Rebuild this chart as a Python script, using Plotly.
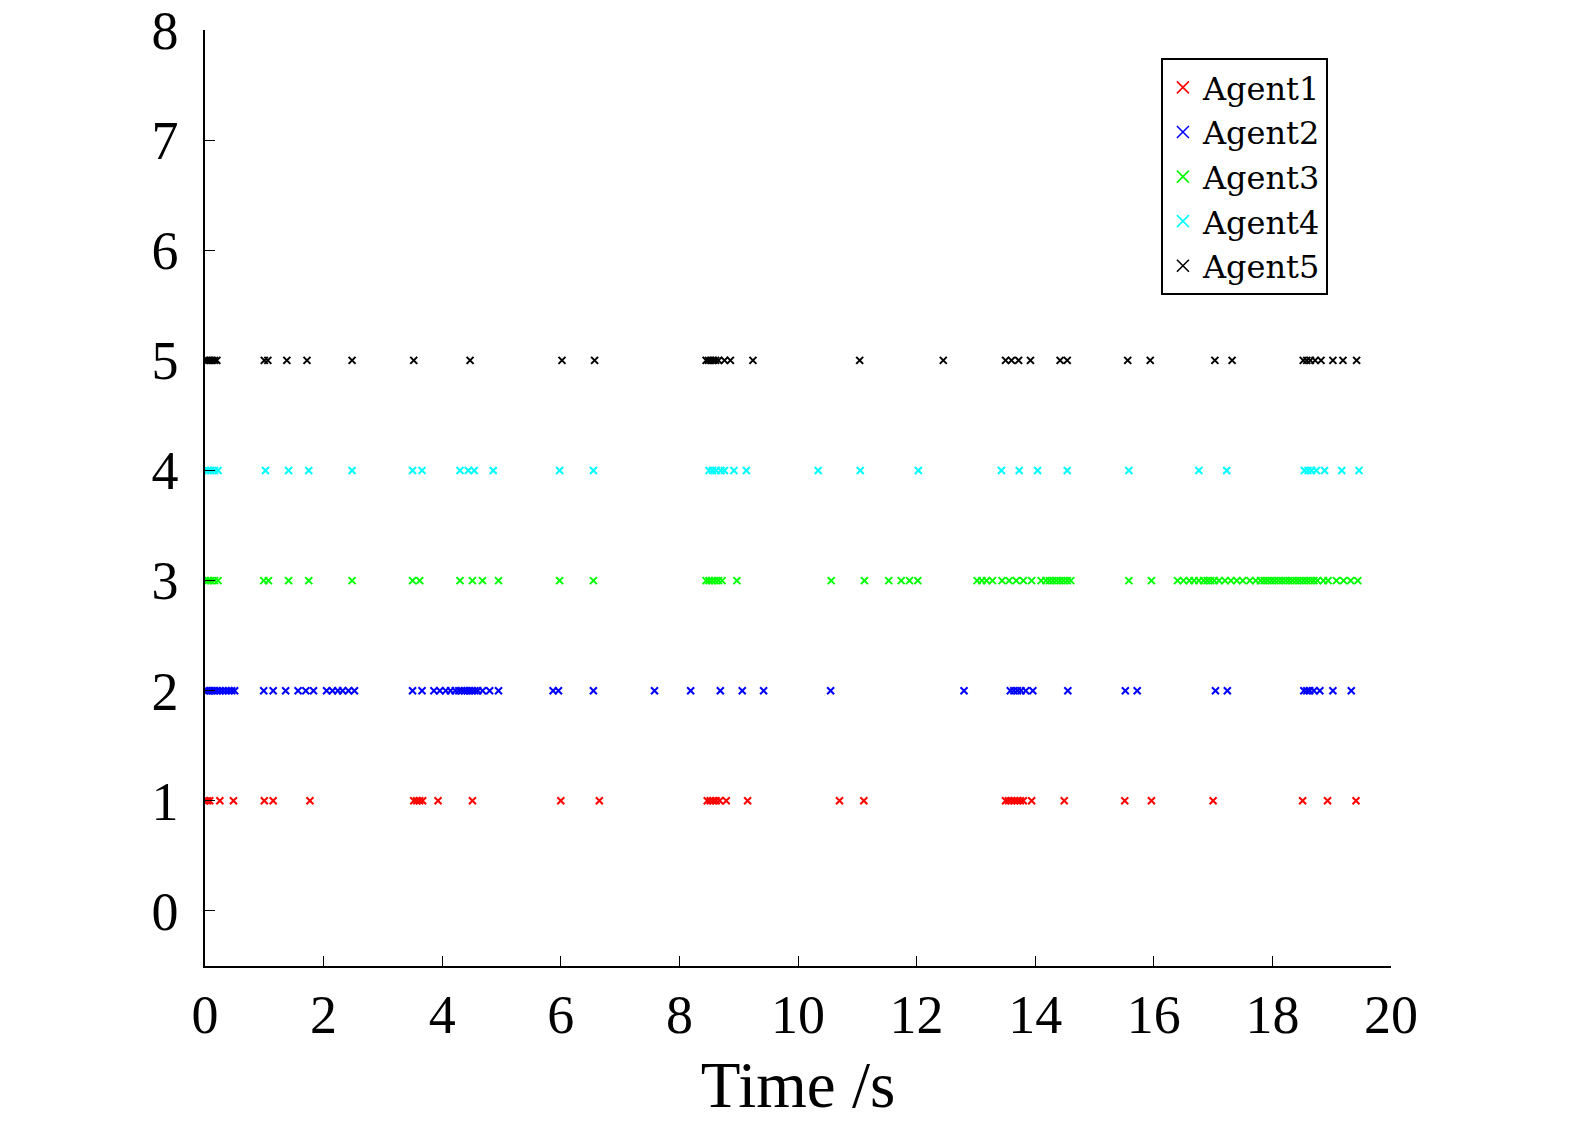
import plotly.graph_objects as go

# event instants (s) for each agent
agent1_t = [0.0, 0.04, 0.08, 0.25, 0.48, 1.0, 1.15, 1.77, 3.52, 3.57, 3.62, 3.67,
            3.93, 4.51, 6.0, 6.65, 8.47, 8.52, 8.57, 8.62, 8.68, 8.79, 9.15, 10.7,
            11.11, 13.5, 13.55, 13.6, 13.65, 13.7, 13.75, 13.8, 13.94, 14.49, 15.51,
            15.96, 17.0, 18.51, 18.93, 19.41]
agent2_t = [0.0, 0.04, 0.08, 0.12, 0.16, 0.2, 0.25, 0.3, 0.35, 0.4, 0.45, 0.5,
            0.99, 1.15, 1.36, 1.57, 1.7, 1.83, 2.05, 2.15, 2.24, 2.32, 2.42, 2.52,
            3.5, 3.66, 3.86, 3.96, 4.06, 4.14, 4.22, 4.28, 4.33, 4.38, 4.42, 4.46,
            4.5, 4.55, 4.6, 4.68, 4.8, 4.95, 5.87, 5.96, 6.55, 7.58, 8.19, 8.69, 9.06,
            9.42, 10.55, 12.8, 13.58, 13.64, 13.7, 13.76, 13.84, 13.96, 14.55, 15.52,
            15.72, 17.04, 17.24, 18.53, 18.58, 18.63, 18.7, 18.8, 19.02, 19.33]
agent3_t = [0.0, 0.05, 0.1, 0.16, 0.22, 0.99, 1.07, 1.41, 1.75, 2.48, 3.5, 3.62,
            4.3, 4.51, 4.68, 4.95, 5.98, 6.55, 8.45, 8.5, 8.55, 8.6, 8.66, 8.72, 8.97,
            10.56, 11.12, 11.53, 11.74, 11.88, 12.02, 13.02, 13.1, 13.18, 13.28,
            13.44, 13.56, 13.68, 13.8, 13.94, 14.1, 14.18, 14.24, 14.3, 14.36, 14.42,
            14.48, 14.54, 14.6, 15.58, 15.96, 16.4, 16.5, 16.6, 16.68, 16.76, 16.84,
            16.9, 16.96, 17.02, 17.1, 17.2, 17.3, 17.4, 17.5, 17.62, 17.72, 17.8,
            17.86, 17.92, 17.98, 18.04, 18.1, 18.16, 18.22, 18.28, 18.34, 18.4, 18.46,
            18.52, 18.58, 18.64, 18.7, 18.76, 18.86, 18.94, 19.08, 19.2, 19.32, 19.44]
agent4_t = [0.0, 0.05, 0.1, 0.16, 0.22, 1.02, 1.41, 1.75, 2.48, 3.5, 3.66, 4.3,
            4.44, 4.54, 4.86, 5.98, 6.55, 8.5, 8.56, 8.62, 8.7, 8.76, 8.92, 9.13,
            10.34, 11.05, 12.03, 13.43, 13.73, 14.04, 14.54, 15.58, 16.76, 17.23,
            18.54, 18.6, 18.66, 18.74, 18.88, 19.17, 19.46]
agent5_t = [0.0, 0.04, 0.08, 0.12, 0.16, 0.2, 1.0, 1.06, 1.38, 1.72, 2.48, 3.52,
            4.47, 6.02, 6.57, 8.45, 8.49, 8.53, 8.57, 8.61, 8.66, 8.76, 8.86, 9.24,
            11.04, 12.45, 13.5, 13.6, 13.72, 13.92, 14.42, 14.54, 15.56, 15.94,
            17.03, 17.32, 18.52, 18.58, 18.64, 18.72, 18.82, 19.02, 19.19, 19.42]

names = ["Agent1", "Agent2", "Agent3", "Agent4", "Agent5"]
levels = [1, 2, 3, 4, 5]
colors = ["#ff0000", "#0000ff", "#00ff00", "#00ffff", "#000000"]
series = [agent1_t, agent2_t, agent3_t, agent4_t, agent5_t]

fig = go.Figure()
for name, lvl, col, t in zip(names, levels, colors, series):
    fig.add_trace(go.Scatter(
        x=t, y=[lvl] * len(t), mode="markers", name=name, showlegend=False,
        marker=dict(symbol="x-thin", size=7, color=col,
                    line=dict(color=col, width=2)),
    ))
    # legend-only entry with a larger cross, as in the reference
    fig.add_trace(go.Scatter(
        x=[None], y=[None], mode="markers", name=name,
        marker=dict(symbol="x-thin", size=12, color=col,
                    line=dict(color=col, width=1.6)),
    ))

font = "Liberation Serif, DejaVu Serif, serif"
fig.update_layout(
    width=1575, height=1121,
    margin=dict(l=205, r=184, t=30, b=155, autoexpand=False),
    paper_bgcolor="white", plot_bgcolor="white",
    font=dict(family=font, size=54, color="black"),
    legend=dict(x=0.806, y=0.97, xanchor="left", yanchor="top",
                bgcolor="white", bordercolor="black", borderwidth=2,
                font=dict(family="DejaVu Serif, serif", size=32),
                itemwidth=30, tracegroupgap=0),
)
fig.update_xaxes(
    range=[0, 20], tickvals=list(range(0, 21, 2)), automargin=False,
    showline=True, linecolor="black", linewidth=1.5, mirror=False,
    ticks="inside", ticklen=10, tickcolor="black", showgrid=False, zeroline=False,
    title=dict(text="Time /s", standoff=24), tickfont=dict(size=54),
    ticklabeloverflow="allow",
)
fig.update_yaxes(
    range=[-0.5, 8], tickvals=list(range(0, 9)), automargin=False,
    showline=True, linecolor="black", linewidth=1.5, mirror=False,
    ticks="inside", ticklen=10, tickcolor="black", showgrid=False, zeroline=False,
    tickfont=dict(size=54), ticklabelstandoff=14, ticklabeloverflow="allow",
)

# drop the default page margin so the figure fills the window exactly
fig.write_html("out.html", config={"displayModeBar": False},
               post_script="document.body.style.margin='0';")
